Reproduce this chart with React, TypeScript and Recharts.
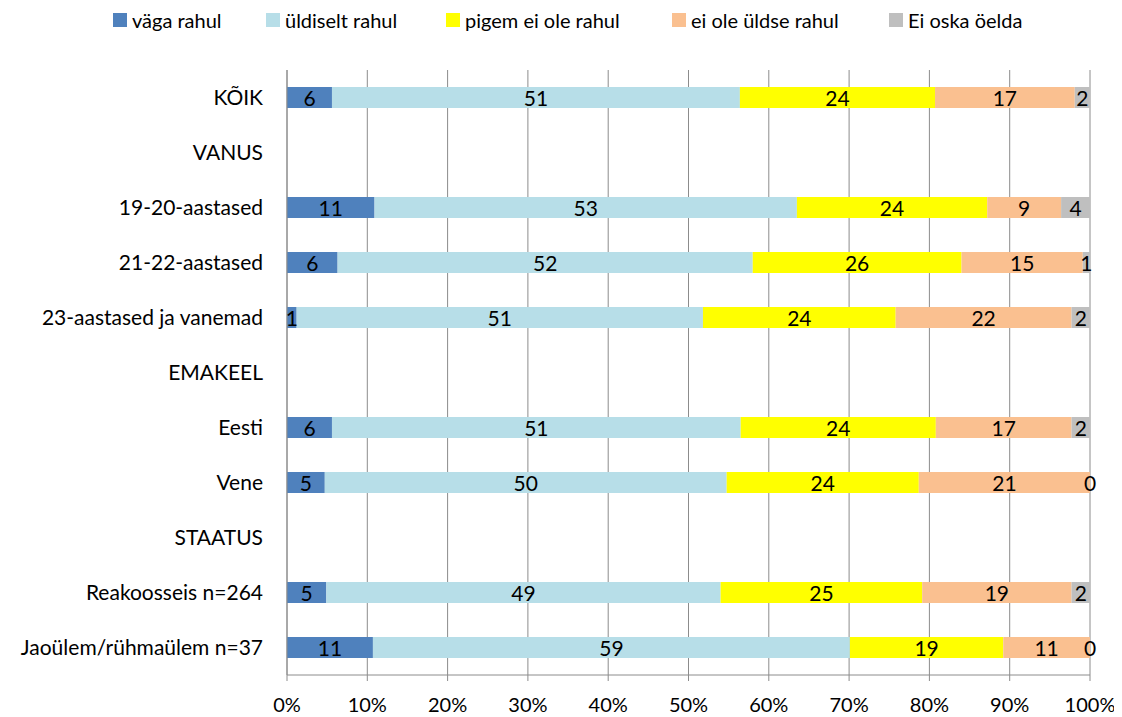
import React from 'react';
import { BarChart, Bar, XAxis, YAxis, CartesianGrid, Legend, LabelList } from 'recharts';

const categories = [
  'KÕIK',
  'VANUS',
  '19-20-aastased',
  '21-22-aastased',
  '23-aastased ja vanemad',
  'EMAKEEL',
  'Eesti',
  'Vene',
  'STAATUS',
  'Reakoosseis n=264',
  'Jaoülem/rühmaülem n=37',
];

const vagaRahul = [5.6, null, 10.9, 6.3, 1.2, null, 5.6, 4.7, null, 4.9, 10.7];
const yldiseltRahul = [50.8, null, 52.6, 51.7, 50.6, null, 50.9, 50.0, null, 49.1, 59.4];
const pigemEiOleRahul = [24.3, null, 23.7, 26.0, 24.0, null, 24.3, 23.9, null, 25.1, 19.1];
const eiOleYldseRahul = [17.4, null, 9.2, 15.1, 21.9, null, 16.9, 21.3, null, 18.6, 10.8];
const eiOskaOelda = [1.9, null, 3.6, 0.9, 2.3, null, 2.3, 0, null, 2.3, 0];

const xTicks = [0, 0.1, 0.2, 0.3, 0.4, 0.5, 0.6, 0.7, 0.8, 0.9, 1];

const seriesNames = ['väga rahul', 'üldiselt rahul', 'pigem ei ole rahul', 'ei ole üldse rahul', 'Ei oska öelda'];
const seriesKeys = ['vaga', 'yldiselt', 'pigem', 'eiOle', 'eiOska'];
const seriesColors = ['#4F81BD', '#B7DEE8', '#FFFF00', '#FAC090', '#BFBFBF'];

const data = categories.map((name, i) => ({
  name,
  vaga: vagaRahul[i],
  yldiselt: yldiseltRahul[i],
  pigem: pigemEiOleRahul[i],
  eiOle: eiOleYldseRahul[i],
  eiOska: eiOskaOelda[i],
}));

const FONT = 'Lato, "DejaVu Sans", sans-serif';
const FS = 21;
const legendX = [105, 258, 438, 664, 881];

const renderLegend = () => (
  <div style={{ position: 'relative', width: 1106, height: 30, fontFamily: FONT, fontSize: 20 }}>
    {seriesNames.map((n, i) => (
      <div
        key={n}
        style={{ position: 'absolute', left: legendX[i], top: 0, display: 'flex', alignItems: 'center', whiteSpace: 'nowrap' }}
      >
        <span style={{ display: 'inline-block', width: 14, height: 14, background: seriesColors[i], marginRight: 5 }} />
        <span style={{ color: '#000', lineHeight: '24px' }}>{n}</span>
      </div>
    ))}
  </div>
);

const labelText = (cx: number, cy: number, value: any) => (
  <text
    x={cx}
    y={cy}
    textAnchor="middle"
    dominantBaseline="central"
    fontFamily={FONT}
    fontSize={FS}
    fill="#000"
  >
    {Math.round(Number(value))}
  </text>
);

const makeLabel = (props: any) => {
  const { x, y, width, height, value } = props;
  if (value === null || value === undefined || Number(value) === 0) return null;
  return labelText(Number(x) + Number(width) / 2, Number(y) + Number(height) / 2, value);
};

// zero-valued last segment: its label sits at the end of the preceding segment
const makeZeroEndLabel = (props: any) => {
  const { x, y, width, height, value } = props;
  if (value === null || value === undefined || Number(value) !== 0) return null;
  return labelText(Number(x) + Number(width), Number(y) + Number(height) / 2, value);
};

export default function App() {
  return (
    <BarChart
      width={1106}
      height={709}
      data={data}
      layout="vertical"
      stackOffset="expand"
      barSize={21}
      margin={{ top: 32, right: 24, left: 0, bottom: 0 }}
    >
      <Legend
        verticalAlign="top"
        align="left"
        height={30}
        content={renderLegend}
        wrapperStyle={{ top: 0, left: 0, width: 1106, height: 30 }}
      />
      <CartesianGrid horizontal={false} vertical={true} stroke="#8C8C8C" strokeWidth={1} />
      <XAxis
        type="number"
        domain={[0, 1]}
        ticks={xTicks}
        interval={0}
        tickFormatter={(v: number) => `${Math.round(v * 100)}%`}
        tick={{ fill: '#000', fontSize: 20, fontFamily: FONT }}
        tickLine={{ stroke: '#8C8C8C' }}
        axisLine={{ stroke: '#8C8C8C' }}
        tickSize={6}
        tickMargin={17}
        height={42}
      />
      <YAxis
        type="category"
        dataKey="name"
        width={279}
        interval={0}
        tick={{ fill: '#000', fontSize: FS, fontFamily: FONT }}
        tickLine={false}
        axisLine={{ stroke: '#8C8C8C' }}
        tickMargin={18}
      />
      {seriesKeys.map((k, i) => (
        <Bar key={k} dataKey={k} name={seriesNames[i]} stackId="a" fill={seriesColors[i]} isAnimationActive={false}>
          <LabelList dataKey={k} content={makeLabel} />
          {k === 'eiOle' ? <LabelList dataKey="eiOska" content={makeZeroEndLabel} /> : null}
        </Bar>
      ))}
    </BarChart>
  );
}
